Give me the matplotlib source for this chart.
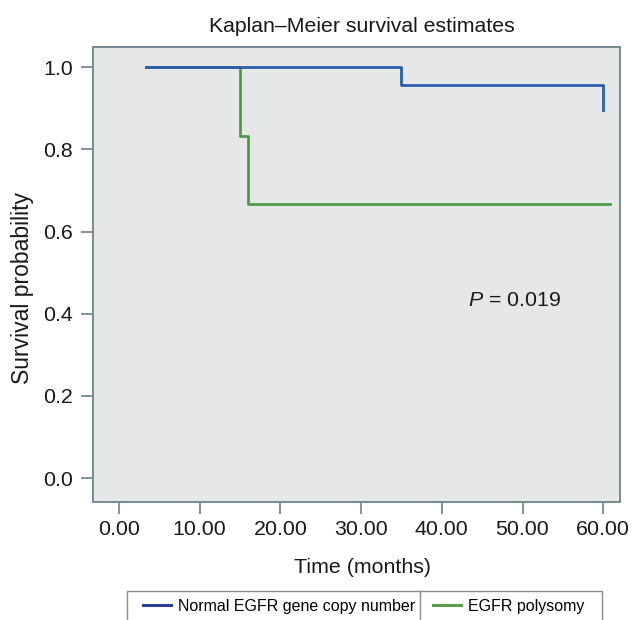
import matplotlib
matplotlib.use("Agg")
import matplotlib.pyplot as plt
from matplotlib.patches import Rectangle
from matplotlib.lines import Line2D

plt.rcParams['font.family'] = ['Liberation Sans', 'DejaVu Sans']
plt.rcParams['mathtext.fontset'] = 'custom'
plt.rcParams['mathtext.it'] = 'Liberation Sans:italic'
plt.rcParams['mathtext.rm'] = 'Liberation Sans'

# ---- data ----
normal_time = [3.4, 35.0, 60.0]
normal_surv = [1.0, 0.958, 0.896]
poly_time = [3.4, 15.0, 16.0, 60.8]
poly_surv = [1.0, 0.833, 0.667, 0.667]
series_labels = ["Normal EGFR gene copy number", "EGFR polysomy"]
x_ticks = [0, 10, 20, 30, 40, 50, 60]
x_ticklabels = ["0.00", "10.00", "20.00", "30.00", "40.00", "50.00", "60.00"]
y_ticks = [0.0, 0.2, 0.4, 0.6, 0.8, 1.0]
y_ticklabels = ["0.0", "0.2", "0.4", "0.6", "0.8", "1.0"]
p_text = r"$P$ = 0.019"
p_pos = (43.2, 0.432)

W, H = 632, 620
fig = plt.figure(figsize=(W / 100, H / 100), dpi=100)
fig.patch.set_facecolor('white')

left, right, top, bottom = 93.3, 620.0, 46.7, 502.0
ax = fig.add_axes([left / W, 1 - bottom / H, (right - left) / W, (bottom - top) / H])
ax.set_facecolor('#e6e8e8')

blue = '#2a5db0'
green = '#4f9a4a'
lg, = ax.step(poly_time, poly_surv, where='post', color=green, lw=2.0, zorder=2)
lb, = ax.step(normal_time, normal_surv, where='post', color=blue, lw=2.0, zorder=3)

ax.set_xlim(-3.18, 62.08)
ax.set_ylim(-0.058, 1.050)
ax.set_xticks(x_ticks)
ax.set_xticklabels(x_ticklabels)
ax.set_yticks(y_ticks)
ax.set_yticklabels(y_ticklabels)

frame_col = '#748c92'
for s in ax.spines.values():
    s.set_color(frame_col)
    s.set_linewidth(1.4)
ax.tick_params(axis='both', direction='out', length=8.3, width=1.3,
               color=frame_col, labelsize=15.4, labelcolor='#1a1a1a')
ax.tick_params(axis='x', pad=5.0)
ax.tick_params(axis='y', pad=6.5)

ax.text(p_pos[0], p_pos[1], p_text, ha='left', va='center', fontsize=15.4,
        color='#1a1a1a')

fig.text(362 / W, 1 - 32 / H, "Kaplan–Meier survival estimates", ha='center',
         va='baseline', fontsize=15.3, color='#1a1a1a')
fig.text(363 / W, 1 - 573 / H, "Time (months)", ha='center', va='baseline',
         fontsize=15.4, color='#1a1a1a')
fig.text(23 / W, 1 - 288 / H, "Survival probability", ha='center', va='center',
         rotation=90, fontsize=16.5, color='#1a1a1a')

# legend
hb = Line2D([], [], color='#2b3f98', lw=2.2)
hg = Line2D([], [], color='#5a9e48', lw=2.2)
fig.legend([hb, hg], series_labels, loc='upper left',
           bbox_to_anchor=(142.7 / W, 1 - 599 / H), ncol=2, frameon=False,
           borderpad=0, borderaxespad=0, handlelength=1.8, handletextpad=0.4,
           columnspacing=1.1, fontsize=11.5)
fig.patches.append(Rectangle((127.3 / W, -0.05), (602 - 127.3) / W,
                             (1 - 590.7 / H) + 0.05, transform=fig.transFigure,
                             fill=False, edgecolor='#8c8c8c', lw=1.0))
fig.lines.append(Line2D([420 / W, 420 / W], [-0.05, 1 - 590.7 / H],
                        transform=fig.transFigure, color='#8c8c8c', lw=1.0))

fig.savefig('out.png', dpi=100)
